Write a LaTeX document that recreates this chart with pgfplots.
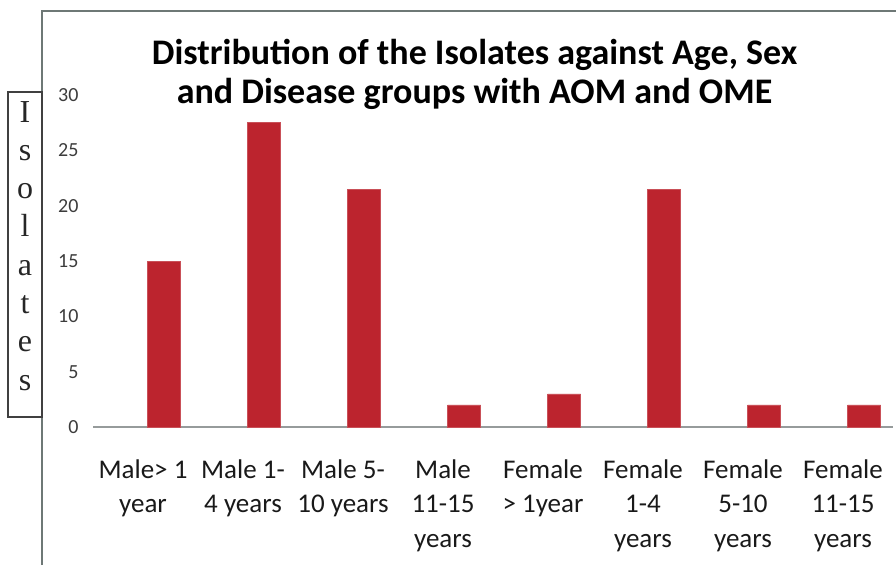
\documentclass[border=0pt]{standalone}
\usepackage{pgfplots}
\pgfplotsset{compat=1.18}
\usepackage{fontspec}
\setmainfont{Carlito}
\newfontfamily\serifletters{Liberation Serif}
\definecolor{barred}{RGB}{188,36,46}
\definecolor{axisgray}{RGB}{150,155,155}
\definecolor{framegray}{RGB}{110,120,118}
\definecolor{tickgray}{RGB}{60,60,60}
\definecolor{labelcol}{RGB}{25,25,25}
\begin{document}
\begin{tikzpicture}
\path[use as bounding box] (0pt,0pt) rectangle (896pt,-565pt);
% outer frame (top and left visible)
\draw[framegray, line width=1.6pt] (42pt,-565pt) -- (42pt,-11pt) -- (900pt,-11pt);
% y label box
\draw[black!75, line width=1.2pt] (8pt,-92pt) rectangle (42pt,-417pt);
\foreach \ch/\yy in {I/122, s/160, o/198, l/236.5, a/275, t/313, e/351.5, s/390}{
  \node[anchor=base, inner sep=0pt, font=\serifletters\fontsize{32}{32}\selectfont, text=black!85] at (25pt,-\yy pt) {\ch};
}
% title
\node[anchor=base, align=center, inner sep=0pt, font=\bfseries\fontsize{36}{39}\selectfont, text=black] at (474.5pt,-103pt)
  {Distribution of the Isolates against Age, Sex\\and Disease groups with AOM and OME};
\begin{axis}[
  at={(93pt,-427pt)}, anchor=south west,
  scale only axis, width=800pt, height=332pt,
  xmin=-0.5, xmax=7.5, ymin=0, ymax=30,
  ybar, bar width=33pt, bar shift=21pt,
  axis x line*=bottom, axis y line*=left,
  x axis line style={draw=axisgray, line width=1.5pt, -},
  y axis line style={draw=none},
  ytick={0,5,10,15,20,25,30},
  xtick={0,1,2,3,4,5,6,7},
  xticklabels={{Male> 1\\year},{Male 1-\\4 years},{Male 5-\\10 years},{Male\\11-15\\years},{Female\\> 1year},{Female\\1-4\\years},{Female\\5-10\\years},{Female\\11-15\\years}},
  major tick length=0pt,
  /pgf/number format/assume math mode=true,
  yticklabel style={font=\fontsize{20}{20}\selectfont, text=tickgray, xshift=-11pt},
  xticklabel style={font=\fontsize{27}{34.5}\selectfont, align=center, text=labelcol, yshift=-29pt},
  clip=false,
]
\addplot[fill=barred, draw=barred!80!white, line width=0.5pt] coordinates {
  (0,15) (1,27.5) (2,21.5) (3,2) (4,3) (5,21.5) (6,2) (7,2)
};
\end{axis}
\end{tikzpicture}
\end{document}
